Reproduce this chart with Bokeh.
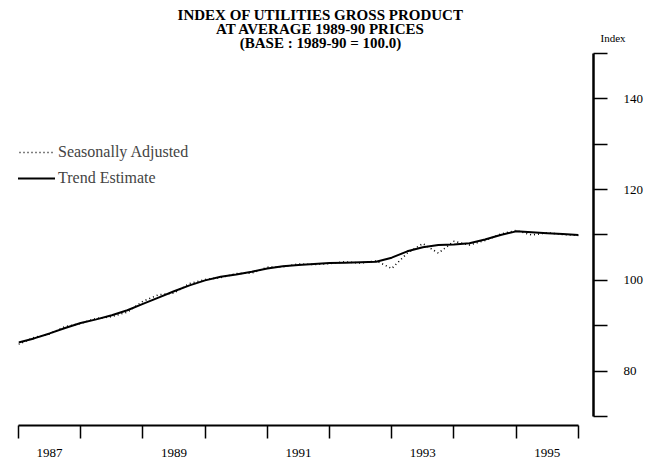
from bokeh.plotting import figure
from bokeh.models import (Range1d, FixedTicker, Label, Legend, LegendItem, LinearAxis)
from bokeh.embed import file_html
from bokeh.resources import INLINE

# ---------------- data ----------------
years = [1987]*4 + [1988]*4 + [1989]*4 + [1990]*4 + [1991]*4 + [1992]*4 + \
        [1993]*4 + [1994]*4 + [1995]*4 + [1996]
quarters = [1, 2, 3, 4]*9 + [1]

trend = [86.3, 87.2, 88.3, 89.5, 90.6, 91.4, 92.3, 93.4,
         94.8, 96.2, 97.6, 98.9, 100.0, 100.8, 101.3, 101.9,
         102.6, 103.1, 103.4, 103.6, 103.8, 103.9, 104.0, 104.1,
         105.0, 106.4, 107.3, 107.8, 107.9, 108.2, 109.0, 110.0,
         110.8, 110.6, 110.4, 110.2, 110.0]

seas_adj = [85.9, 87.4, 88.2, 89.8, 90.5, 91.6, 92.0, 93.0,
            95.4, 96.8, 97.2, 99.3, 100.2, 100.6, 101.5, 101.6,
            102.9, 103.0, 103.6, 103.5, 103.7, 104.1, 103.8, 104.3,
            102.6, 106.0, 108.1, 106.0, 108.6, 107.8, 108.8, 110.2,
            111.0, 110.0, 110.5, 110.1, 109.9]

year_ticks = [1987, 1988, 1989, 1990, 1991, 1992, 1993, 1994, 1995, 1996]
year_labels = ["1987", "1989", "1991", "1993", "1995"]
index_ticks = [70, 80, 90, 100, 110, 120, 130, 140, 150]
index_labels = [80, 100, 120, 140]

title_lines = ["INDEX OF UTILITIES GROSS PRODUCT",
               "AT AVERAGE 1989-90 PRICES",
               "(BASE : 1989-90 = 100.0)"]
axis_title = "Index"

t = [y + (q - 1) / 4 for y, q in zip(years, quarters)]

SERIF = "Liberation Serif"

p = figure(width=651, height=460, output_backend="svg", toolbar_location=None,
           x_range=Range1d(1987, 1996.244), y_range=Range1d(68.0, 161.7),
           y_axis_location="right",
           min_border_left=18, min_border_right=58,
           min_border_top=0, min_border_bottom=35)
p.outline_line_color = None
p.xgrid.visible = False
p.ygrid.visible = False

r_sa = p.line(t, seas_adj, line_color="black", line_width=1.6, line_dash="1 3")
r_tr = p.line(t, trend, line_color="black", line_width=2)

# bottom axis: ticks at year boundaries, labels mid-year
xa = p.xaxis[0]
label_pos = [int(s) + 0.5 for s in year_labels]
xa.ticker = FixedTicker(ticks=label_pos, minor_ticks=year_ticks)
xa.major_label_overrides = {v: s for v, s in zip(label_pos, year_labels)}
xa.bounds = (year_ticks[0], year_ticks[-1])
xa.major_tick_out = 0
xa.major_tick_in = 0
xa.minor_tick_out = 13
xa.minor_tick_in = 0
xa.minor_tick_line_width = 1.5
xa.axis_line_width = 2
xa.major_label_standoff = 10
xa.major_label_text_font = SERIF
xa.major_label_text_font_size = "13px"
xa.major_label_text_color = "black"

# right axis
ya = p.yaxis[0]
ya.ticker = FixedTicker(ticks=index_ticks)
ya.major_label_overrides = {v: (str(v) if v in index_labels else "") for v in index_ticks}
ya.bounds = (index_ticks[0], index_ticks[-1])
ya.major_tick_out = 14
ya.major_tick_in = 0
ya.minor_tick_out = 0
ya.minor_tick_in = 0
ya.major_tick_line_width = 1.5
ya.axis_line_width = 2.5
ya.major_label_standoff = 16
ya.major_label_text_font = SERIF
ya.major_label_text_font_size = "13px"
ya.major_label_text_color = "black"

# "Index" caption above the right axis, as the label of a second (invisible) axis
idx_pos = 153.5
ax2 = LinearAxis(ticker=FixedTicker(ticks=[idx_pos]),
                 major_label_overrides={idx_pos: axis_title},
                 axis_line_alpha=0, major_tick_out=0, major_tick_in=0,
                 minor_tick_out=0, minor_tick_in=0,
                 major_label_standoff=-46,
                 major_label_text_font=SERIF,
                 major_label_text_font_size="11px",
                 major_label_text_color="black")
p.add_layout(ax2, "right")

# title
for i, line in enumerate(title_lines):
    p.add_layout(Label(x=1991.855, y=150, y_offset=39 - 14 * i, text=line,
                       text_font=SERIF, text_font_style="bold",
                       text_font_size="15px", text_align="center",
                       text_baseline="middle", text_color="black"))

legend = Legend(items=[LegendItem(label="Seasonally Adjusted", renderers=[r_sa]),
                       LegendItem(label="Trend Estimate", renderers=[r_tr])],
                location=(-3, 238), glyph_width=40, glyph_height=18,
                label_height=18, spacing=8, padding=0, margin=0,
                label_standoff=3, label_text_font=SERIF,
                label_text_font_size="16px", border_line_alpha=0,
                background_fill_alpha=0)
p.add_layout(legend)

open("out.html", "w").write(file_html(p, INLINE))
